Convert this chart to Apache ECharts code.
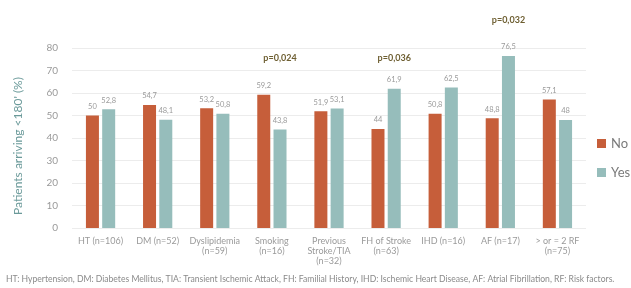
<!DOCTYPE html>
<html>
<head>
	<meta charset="UTF-8" />
	<title>Patients arriving &lt;180'</title>
	<script src="https://cdn.jsdelivr.net/npm/echarts@6/dist/echarts.min.js"></script>
	<style>
		html, body { margin: 0; padding: 0; background: #fff; }
		#chart { width: 631px; height: 288px; }
	</style>
</head>
<body>
	<div id="chart"></div>
	<script type="text/javascript">
		// data
		const categories = ["HT (n=106)", "DM (n=52)", "Dyslipidemia\n(n=59)", "Smoking\n(n=16)",
			"Previous\nStroke/TIA\n(n=32)", "FH of Stroke\n(n=63)", "IHD (n=16)", "AF (n=17)", "> or = 2 RF\n(n=75)"];
		const noValues = [50, 54.7, 53.2, 59.2, 51.9, 44, 50.8, 48.8, 57.1];
		const yesValues = [52.8, 48.1, 50.8, 43.8, 53.1, 61.9, 62.5, 76.5, 48];
		const pCategories = [3, 5, 7]; // Smoking, FH of Stroke, AF
		const pLabels = ["p=0,024", "p=0,036", "p=0,032"];
		const yTicks = [0, 10, 20, 30, 40, 50, 60, 70, 80];

		const font = "Lato, 'DejaVu Sans', sans-serif";
		const fmt = p => String(p.value).replace(".", ",");

		const chart = echarts.init(document.getElementById("chart"));
		chart.setOption({
			animation: false,
			textStyle: { fontFamily: font },
			grid: { left: 72, right: 45, top: 48, bottom: 60 },
			legend: {
				orient: "vertical",
				left: 597, top: 137, padding: 0,
				itemWidth: 9, itemHeight: 9, itemGap: 16,
				icon: "rect",
				textStyle: { color: "#7a7a7a", fontSize: 13, fontFamily: font },
				data: ["No", "Yes"]
			},
			xAxis: {
				type: "category",
				data: categories,
				axisLine: { show: false },
				axisTick: { show: false },
				axisLabel: { color: "#9a9a9a", fontSize: 9, lineHeight: 10, margin: 8, interval: 0 }
			},
			yAxis: {
				type: "value",
				min: yTicks[0], max: yTicks[yTicks.length - 1], interval: 10,
				axisLabel: { color: "#9a9a9a", fontSize: 10, margin: 14 },
				splitLine: { lineStyle: { color: "#ececec" } }
			},
			series: [{
				name: "No",
				type: "bar",
				data: noValues,
				barWidth: 13,
				barGap: "25%",
				itemStyle: { color: "#c65e3a" },
				label: { show: true, position: "top", color: "#9a9a9a", fontSize: 7.5, formatter: fmt }
			}, {
				name: "Yes",
				type: "bar",
				data: yesValues,
				barWidth: 13,
				itemStyle: { color: "#96bdbb" },
				label: { show: true, position: "top", color: "#9a9a9a", fontSize: 7.5, formatter: fmt },
				markPoint: {
					symbol: "circle",
					symbolSize: 1,
					silent: true,
					itemStyle: { color: "rgba(0,0,0,0)" },
					label: { show: true, position: "inside", color: "#6e5f32", fontWeight: "bold", fontSize: 9, formatter: p => p.name },
					data: [
						{ name: pLabels[0], coord: [pCategories[0], 75.5] },
						{ name: pLabels[1], coord: [pCategories[1], 75.5] },
						// above the axis max: anchor at the top and lift the label
						{ name: pLabels[2], coord: [pCategories[2], 80], label: { offset: [0, -28] } }
					]
				}
			}],
			graphic: [{
				type: "text",
				x: 18, y: 146,
				rotation: Math.PI / 2,
				style: {
					text: "Patients arriving <180' (%)",
					fill: "#6b9a9a", fontSize: 12, fontFamily: font,
					align: "center", verticalAlign: "middle"
				}
			}, {
				type: "text",
				left: 6, top: 275,
				style: {
					text: "HT: Hypertension, DM: Diabetes Mellitus, TIA: Transient Ischemic Attack, FH: Familial History, IHD: Ischemic Heart Disease, AF: Atrial Fibrillation, RF: Risk factors.",
					fill: "#8a8a8a", fontSize: 8.6, fontFamily: font
				}
			}]
		});
	</script>
</body>
</html>
